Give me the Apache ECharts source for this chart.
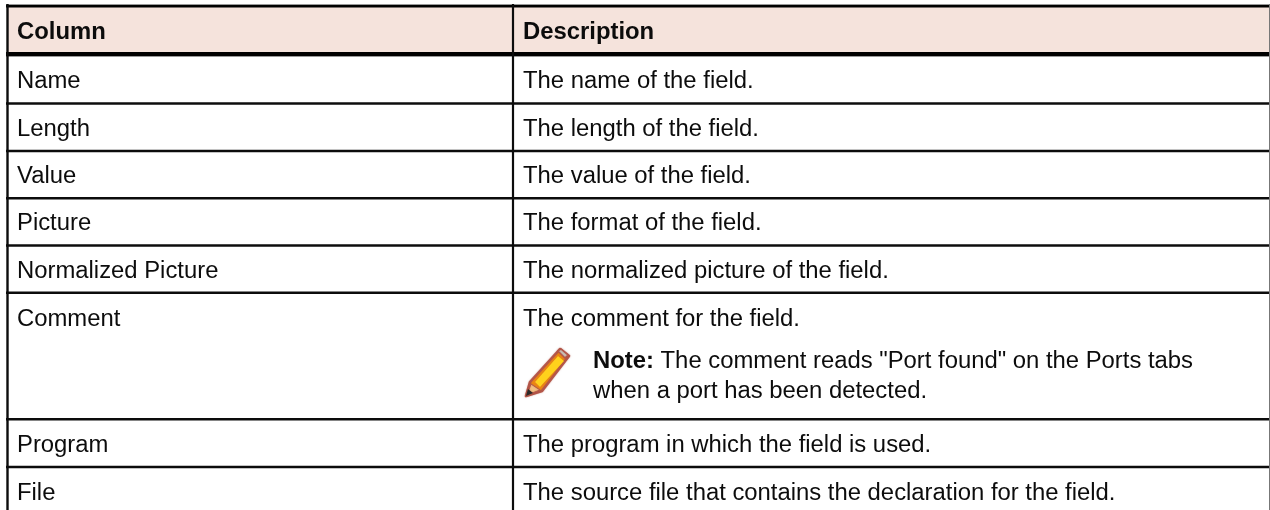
<!DOCTYPE html>
<html><head><meta charset="utf-8">
<style>html,body{margin:0;padding:0;background:#fff}#c{width:1270px;height:510px}</style>
<script src="https://cdn.jsdelivr.net/npm/echarts@6/dist/echarts.min.js"></script>
</head><body><div id="c"></div>
<script>
const headers = ['Column', 'Description'];
const columnNames = ['Name', 'Length', 'Value', 'Picture', 'Normalized Picture', 'Comment', 'Program', 'File'];
const descriptions = ['The name of the field.', 'The length of the field.', 'The value of the field.', 'The format of the field.', 'The normalized picture of the field.', 'The comment for the field.', 'The program in which the field is used.', 'The source file that contains the declaration for the field.'];
const noteLabel = 'Note:';
const noteLines = [' The comment reads "Port found" on the Ports tabs', 'when a port has been detected.'];

const FONT = '"Liberation Sans", Arial, sans-serif', FS = 23.85, INK = '#0c0c0c';
const X = [7.5, 513, 1269.5], LEFT = 17, RIGHT = 523, NOTE_X = 593;
const lineY = [54, 103.5, 151, 198.3, 245.5, 292.7, 419.3, 467];
const textY = [81.5, 129.5, 176.5, 223.5, 271.5, 319.5, 445.5, 493.5];
const g = [];
const rect = (x, y, w, h, fill, z) => g.push({type:'rect', silent:true, z:z||1, shape:{x, y, width:w, height:h}, style:{fill}});
const text = (x, y, t, bold) => g.push({type:'text', silent:true, z:5, x, y, style:{text:t, fill:INK, font:(bold?'bold ':'')+FS+'px '+FONT, verticalAlign:'middle', align:'left'}});
rect(7, 6, 1263, 48, '#f5e3dc');
rect(6, 4, 1264, 1, '#999', 2); rect(6, 5, 1264, 2.6, '#000', 3);
rect(6, 52, 1264, 4, '#000', 3); rect(6, 56, 1264, 1, '#999', 2);
lineY.slice(1).forEach(y => rect(6, y - 1.2, 1264, 2.4, '#0c0c0c', 3));
rect(X[0]-1.2, 4, 2.4, 506, '#0c0c0c', 3);
rect(X[1]-1.1, 4, 2.2, 506, '#0c0c0c', 3);
rect(X[2]-0.5, 4, 1, 506, '#777', 3);
text(LEFT, 32.5, headers[0], true); text(RIGHT, 32.5, headers[1], true);
columnNames.forEach((n, i) => text(LEFT, textY[i], n));
descriptions.forEach((d, i) => text(RIGHT, textY[i], d));
g.push({type:'text', silent:true, z:5, x:NOTE_X, y:361.5, style:{text:'{b|'+noteLabel+'}'+noteLines[0], fill:INK, font:FS+'px '+FONT, verticalAlign:'middle', rich:{b:{font:'bold '+FS+'px '+FONT, fill:INK}}}});
text(NOTE_X, 391.5, noteLines[1]);
// pencil note icon
const poly = (points, fill, stroke, lw) => g.push({type:'polygon', silent:true, z:6, shape:{points}, style:{fill, stroke:stroke||null, lineWidth:lw||0, lineJoin:'round', shadowBlur:1.5, shadowColor:'rgba(170,80,60,0.5)'}});
poly([[526,396],[530,382],[560,349],[569,356],[542,391]], '#f08a14', '#b5574a', 2.6);
poly([[535,382],[558,356],[564,361],[540,387]], '#ffd21c');
poly([[558,351],[561,349],[568,355],[565,358]], '#c9c4bb', '#b5574a', 1.4);
poly([[527,395],[531,384],[540,390]], '#f3c184', '#b5574a', 1);
poly([[526,396],[528,389],[533,393]], '#2a2a2a');
echarts.init(document.getElementById('c'), null, {renderer:'canvas'}).setOption({animation:false, backgroundColor:'#fff', graphic:{elements:g}});
</script></body></html>
